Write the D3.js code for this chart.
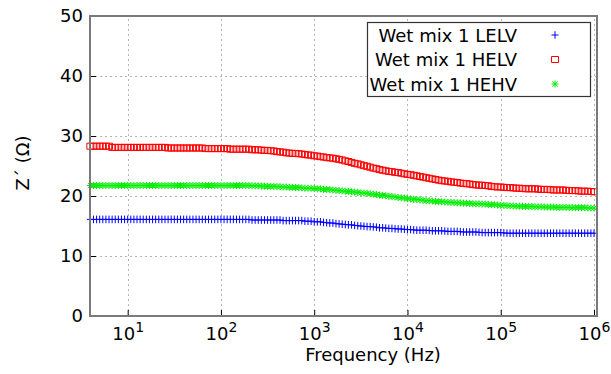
<!DOCTYPE html>
<html>
<head>
<meta charset="utf-8">
<script src="https://cdn.jsdelivr.net/npm/d3@7"></script>
<style>
  body { margin: 0; background: #fff; }
  svg text { font-family: "DejaVu Sans", sans-serif; fill: #000; }
</style>
</head>
<body>
<svg id="chart" width="611" height="374"></svg>
<script>
// Impedance sweep: 30 points per decade, starting at 10^0.6 Hz
const sweepStartExp = 0.6;
const sweepPointsPerDecade = 30;

// Z' (Ω) for each sweep point, one row per half decade
const lelv = [
  16.1,16.1,16.1,16.1,16.1,16.1,16.1,16.1,16.1,16.1,16.1,16.1,16.1,16.1,16.1,
  16.1,16.1,16.1,16.1,16.1,16.1,16.1,16.1,16.1,16.1,16.1,16.1,16.1,16.1,16.1,
  16.1,16.1,16.1,16.1,16.1,16.1,16.1,16.1,16.1,16.1,16.1,16.1,16.1,16.1,16.1,
  16.1,16.1,16.1,16.1,16.1,16.1,16.1,16.0,16.0,16.0,16.0,16.0,16.0,16.0,16.0,
  16.0,16.0,15.9,15.9,15.9,15.9,15.9,15.9,15.9,15.8,15.8,15.8,15.7,15.7,15.7,
  15.6,15.55,15.5,15.5,15.4,15.35,15.3,15.25,15.2,15.2,15.1,15.05,15.0,14.95,14.9,
  14.9,14.85,14.8,14.7,14.7,14.65,14.6,14.6,14.55,14.5,14.5,14.45,14.4,14.4,14.35,
  14.3,14.3,14.3,14.3,14.25,14.2,14.2,14.2,14.2,14.15,14.1,14.1,14.1,14.1,14.05,
  14.0,14.0,14.0,14.0,14.0,13.95,13.9,13.9,13.9,13.9,13.9,13.9,13.9,13.85,13.8,
  13.8,13.8,13.8,13.8,13.8,13.8,13.8,13.8,13.8,13.8,13.8,13.8,13.8,13.8,13.8,
  13.8,13.8,13.8,13.8,13.8,13.8,13.8,13.8,13.8,13.8,13.8,13.8,13.8
];
const helv = [
  28.3,28.3,28.3,28.3,28.3,28.3,28.3,28.1,28.1,28.1,28.1,28.1,28.1,28.1,28.1,
  28.1,28.1,28.1,28.1,28.1,28.1,28.1,28.1,28.1,28.1,28.0,28.0,28.0,28.0,28.0,
  28.0,28.0,28.0,28.0,28.0,28.0,28.0,27.9,27.9,27.9,27.9,27.9,27.9,27.9,27.9,
  27.8,27.8,27.8,27.8,27.8,27.8,27.8,27.7,27.7,27.7,27.65,27.6,27.6,27.55,27.5,
  27.4,27.35,27.3,27.2,27.15,27.1,27.1,27.05,27.0,26.9,26.85,26.8,26.7,26.65,26.55,
  26.5,26.4,26.35,26.3,26.2,26.1,26.0,25.85,25.75,25.6,25.45,25.35,25.2,25.05,24.95,
  24.8,24.65,24.55,24.4,24.3,24.2,24.1,24.05,23.95,23.9,23.8,23.7,23.6,23.55,23.45,
  23.35,23.25,23.15,23.05,22.95,22.85,22.75,22.65,22.55,22.5,22.45,22.35,22.3,22.25,22.15,
  22.1,22.05,22.0,21.9,21.85,21.8,21.8,21.75,21.7,21.6,21.55,21.5,21.5,21.45,21.4,
  21.4,21.35,21.3,21.3,21.25,21.2,21.2,21.2,21.2,21.15,21.1,21.1,21.1,21.05,21.0,
  21.0,21.0,21.0,20.95,20.9,20.9,20.9,20.85,20.8,20.8,20.8,20.75,20.7
];
const hehv = [
  21.75,21.75,21.75,21.75,21.75,21.75,21.75,21.75,21.75,21.75,21.75,21.75,21.75,21.75,21.75,
  21.75,21.75,21.75,21.75,21.75,21.75,21.75,21.75,21.75,21.75,21.75,21.75,21.75,21.75,21.75,
  21.75,21.75,21.75,21.75,21.75,21.75,21.75,21.75,21.75,21.75,21.75,21.75,21.75,21.75,21.75,
  21.75,21.75,21.75,21.75,21.75,21.75,21.75,21.7,21.7,21.7,21.65,21.65,21.6,21.6,21.6,
  21.55,21.55,21.5,21.5,21.45,21.45,21.4,21.4,21.35,21.3,21.3,21.3,21.25,21.2,21.2,
  21.1,21.1,21.05,21.0,20.95,20.9,20.85,20.8,20.75,20.7,20.65,20.6,20.5,20.5,20.45,
  20.35,20.3,20.25,20.15,20.1,20.05,19.95,19.9,19.85,19.75,19.7,19.65,19.55,19.5,19.45,
  19.4,19.35,19.3,19.2,19.2,19.15,19.1,19.05,19.05,19.0,18.95,18.95,18.9,18.85,18.85,
  18.8,18.8,18.75,18.7,18.7,18.7,18.65,18.65,18.6,18.55,18.55,18.5,18.45,18.45,18.4,
  18.35,18.35,18.3,18.3,18.3,18.25,18.25,18.25,18.2,18.2,18.2,18.15,18.15,18.15,18.15,
  18.1,18.1,18.1,18.1,18.1,18.05,18.05,18.05,18.05,18.05,18.0,18.0,18.0
];

const seriesNames = ["Wet mix 1 LELV", "Wet mix 1 HELV", "Wet mix 1 HEHV"];
const seriesColors = ["#0000ff", "#ff0000", "#00ee00"];
const xTickExps = [1, 2, 3, 4, 5, 6];
const yTicks = [0, 10, 20, 30, 40, 50];
const xTitle = "Frequency (Hz)";
const yTitle = "Z\u00b4 (\u03a9)";

const freqs = d3.range(lelv.length).map(i => Math.pow(10, sweepStartExp + i / sweepPointsPerDecade));

const plot = { left: 90, right: 597, top: 16, bottom: 316 };
const svg = d3.select("#chart");

const x = d3.scaleLog()
  .domain([Math.pow(10, 0.596), Math.pow(10, 6.032)])
  .range([plot.left, plot.right]);
const y = d3.scaleLinear().domain([0, 50]).range([plot.bottom, plot.top]);

// dotted grid
const grid = svg.append("g").attr("stroke", "#b4b4b4").attr("stroke-width", 1)
  .attr("stroke-dasharray", "2,3").attr("fill", "none");
grid.selectAll("line.gx").data(xTickExps).join("line")
  .attr("x1", d => Math.round(x(Math.pow(10, d))) + 0.5)
  .attr("x2", d => Math.round(x(Math.pow(10, d))) + 0.5)
  .attr("y1", plot.bottom).attr("y2", plot.top);
grid.selectAll("line.gy").data(yTicks.slice(1, -1)).join("line")
  .attr("y1", d => Math.round(y(d)) + 0.5)
  .attr("y2", d => Math.round(y(d)) + 0.5)
  .attr("x1", plot.left).attr("x2", plot.right);

// axes: inward ticks, labels outside
const yAxis = svg.append("g").attr("transform", `translate(${plot.left},0)`)
  .call(d3.axisLeft(y).tickValues(yTicks).tickSizeInner(-6).tickSizeOuter(0).tickPadding(7));
yAxis.select(".domain").remove();
yAxis.selectAll("text").attr("font-size", 18).attr("font-family", "DejaVu Sans");
yAxis.selectAll("line").attr("stroke", "#000");

const xAxis = svg.append("g").attr("transform", `translate(0,${plot.bottom})`)
  .call(d3.axisBottom(x).tickValues(xTickExps.map(e => Math.pow(10, e)))
    .tickSizeInner(-6).tickSizeOuter(0).tickPadding(11).tickFormat(() => ""));
xAxis.select(".domain").remove();
xAxis.selectAll("line").attr("stroke", "#000");
xAxis.selectAll("text").each(function(d) {
  const t = d3.select(this).attr("font-size", 18).attr("font-family", "DejaVu Sans");
  t.append("tspan").text("10");
  t.append("tspan").attr("font-size", 14).attr("dy", "-7.5").text(Math.round(Math.log10(d)));
});

// data markers
const markerPaths = [
  "M-3.5,0H3.5M0,-3.8V3.8",
  "M-3.5,-3H3.5V3H-3.5Z",
  "M-3.5,0H3.5M0,-3.5V3.5M-2.6,-2.6L2.6,2.6M-2.6,2.6L2.6,-2.6"
];
[lelv, helv, hehv].forEach((vals, k) => {
  svg.append("g").attr("fill", "none").attr("stroke", seriesColors[k]).attr("stroke-width", 1)
    .selectAll("path").data(vals).join("path")
    .attr("transform", (d, i) => `translate(${x(freqs[i])},${y(d)})`)
    .attr("d", markerPaths[k]);
});

// frame
svg.append("rect")
  .attr("x", plot.left).attr("y", plot.top)
  .attr("width", plot.right - plot.left).attr("height", plot.bottom - plot.top)
  .attr("fill", "none").attr("stroke", "#7a7a7a").attr("stroke-width", 2);

// axis titles
svg.append("text").attr("x", 373).attr("y", 361).attr("text-anchor", "middle")
  .attr("font-size", 18).text(xTitle);
svg.append("text").attr("transform", "translate(29,163) rotate(-90)")
  .attr("text-anchor", "middle").attr("font-size", 18).text(yTitle);

// legend
const legend = svg.append("g");
legend.append("rect").attr("x", 367.5).attr("y", 22.5).attr("width", 223).attr("height", 74)
  .attr("fill", "#fff").attr("stroke", "#333").attr("stroke-width", 1.2);
const rowY = [35, 59.5, 84];
seriesNames.forEach((name, k) => {
  legend.append("text").attr("x", 517).attr("y", rowY[k] + 6.8)
    .attr("text-anchor", "end").attr("font-size", 18).text(name);
  legend.append("path").attr("transform", `translate(555,${rowY[k]})`)
    .attr("d", markerPaths[k]).attr("fill", "none")
    .attr("stroke", seriesColors[k]).attr("stroke-width", 1);
});
</script>
</body>
</html>
